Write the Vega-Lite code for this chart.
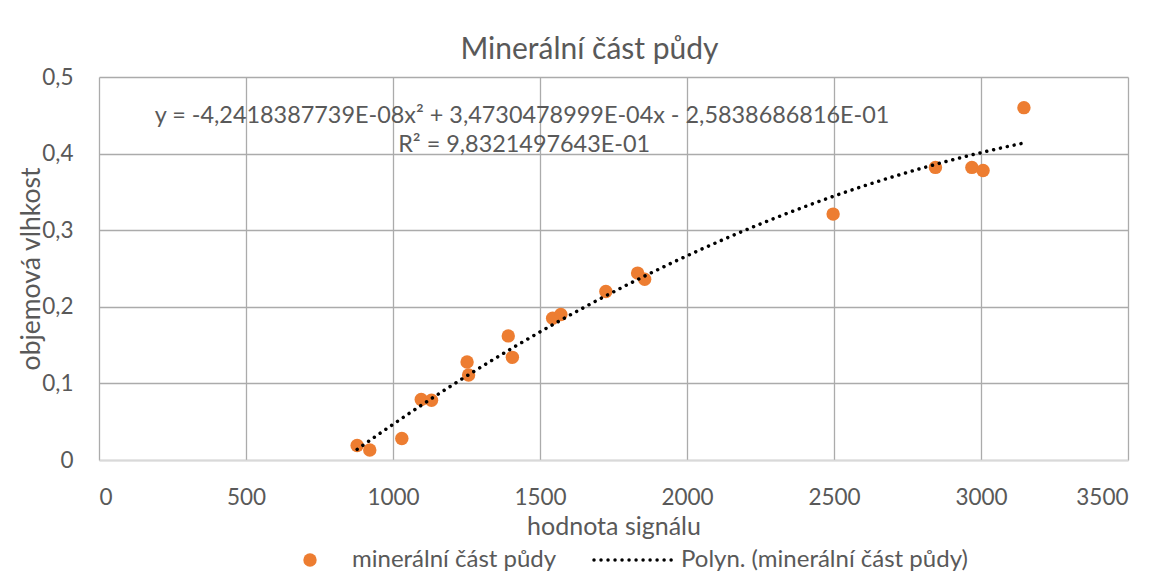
{
  "$schema": "https://vega.github.io/schema/vega-lite/v6.json",
  "width": 1029,
  "height": 383,
  "autosize": {"type": "none"},
  "padding": {"left": 99, "top": 77, "right": 43, "bottom": 119},
  "background": "white",
  "config": {
    "view": {"stroke": null},
    "font": "Lato",
    "axis": {"labelFont": "Lato", "titleFont": "Lato", "labelColor": "#595959", "titleColor": "#595959", "titleFontWeight": "normal", "labelFontSize": 22.5, "titleFontSize": 25, "gridColor": "#ababab", "gridWidth": 1.3, "ticks": false}
  },
  "title": {"text": "Minerální část půdy", "font": "Lato", "fontSize": 30, "fontWeight": "normal", "color": "#595959", "anchor": "middle", "frame": "group", "dx": -24, "offset": 1},
  "datasets": {
    "body": [
      {"signal": 878, "vlhkost": 0.019, "serie": "minerální část půdy"},
      {"signal": 921, "vlhkost": 0.013, "serie": "minerální část půdy"},
      {"signal": 1030, "vlhkost": 0.028, "serie": "minerální část půdy"},
      {"signal": 1096, "vlhkost": 0.079, "serie": "minerální část půdy"},
      {"signal": 1131, "vlhkost": 0.078, "serie": "minerální část půdy"},
      {"signal": 1252, "vlhkost": 0.128, "serie": "minerální část půdy"},
      {"signal": 1257, "vlhkost": 0.111, "serie": "minerální část půdy"},
      {"signal": 1392, "vlhkost": 0.162, "serie": "minerální část půdy"},
      {"signal": 1406, "vlhkost": 0.134, "serie": "minerální část půdy"},
      {"signal": 1543, "vlhkost": 0.185, "serie": "minerální část půdy"},
      {"signal": 1571, "vlhkost": 0.19, "serie": "minerální část půdy"},
      {"signal": 1724, "vlhkost": 0.22, "serie": "minerální část půdy"},
      {"signal": 1832, "vlhkost": 0.244, "serie": "minerální část půdy"},
      {"signal": 1856, "vlhkost": 0.236, "serie": "minerální část půdy"},
      {"signal": 2497, "vlhkost": 0.321, "serie": "minerální část půdy"},
      {"signal": 2845, "vlhkost": 0.382, "serie": "minerální část půdy"},
      {"signal": 2969, "vlhkost": 0.382, "serie": "minerální část půdy"},
      {"signal": 3007, "vlhkost": 0.378, "serie": "minerální část půdy"},
      {"signal": 3146, "vlhkost": 0.46, "serie": "minerální část půdy"}
    ],
    "rovnice": [
      {"signal": 1439, "vlhkost": 0.449, "text": "y = -4,2418387739E-08x² + 3,4730478999E-04x - 2,5838686816E-01"},
      {"signal": 1446, "vlhkost": 0.411, "text": "R² = 9,8321497643E-01"}
    ]
  },
  "encoding": {
    "x": {"field": "signal", "type": "quantitative", "scale": {"domain": [0, 3500], "nice": false},
      "axis": {"values": [0, 500, 1000, 1500, 2000, 2500, 3000, 3500], "format": "d", "title": "hodnota signálu", "labelPadding": 26, "titlePadding": 6, "domainColor": "#d9d9d9", "domainWidth": 1.5}},
    "y": {"field": "vlhkost", "type": "quantitative", "scale": {"domain": [0, 0.5], "nice": false},
      "axis": {"values": [0, 0.1, 0.2, 0.3, 0.4, 0.5], "labelExpr": "datum.value == 0 ? '0' : replace(format(datum.value, '.1f'), '.', ',')", "title": "objemová vlhkost", "titleFontSize": 26.5, "labelPadding": 26, "titlePadding": -4, "domain": false}}
  },
  "layer": [
    {
      "data": {"name": "body"},
      "mark": {"type": "point", "filled": true, "opacity": 1, "size": 180, "shape": "circle"},
      "encoding": {
        "color": {"field": "serie", "type": "nominal", "scale": {"range": ["#ED7D31"]},
          "legend": {"title": null, "orient": "none", "legendX": 199, "legendY": 471, "labelFont": "Lato", "labelFontSize": 24, "labelLimit": 0, "labelColor": "#595959", "labelOffset": 30, "symbolSize": 180}}
      }
    },
    {
      "data": {"name": "body"},
      "transform": [{"regression": "vlhkost", "on": "signal", "method": "poly", "order": 2, "groupby": ["serie"]}],
      "mark": {"type": "line", "color": "black", "strokeWidth": 3.5, "strokeCap": "round", "strokeDash": [0.01, 7]},
      "encoding": {
        "strokeDash": {"field": "serie", "type": "nominal", "scale": {"range": [[0.01, 7]]},
          "legend": {"title": null, "orient": "none", "legendX": 493, "legendY": 441, "labelFont": "Lato", "labelFontSize": 24, "labelLimit": 0, "labelColor": "#595959", "labelOffset": 5, "symbolSize": 6400, "symbolStrokeColor": "black", "symbolStrokeWidth": 3.5, "labelExpr": "'Polyn. (' + datum.label + ')'",
            "encode": {"symbols": {"update": {"strokeCap": {"value": "round"}}}}}
        }
      }
    },
    {
      "data": {"name": "rovnice"},
      "mark": {"type": "text", "font": "Lato", "fontSize": 23.4, "color": "#595959", "align": "center", "baseline": "middle"},
      "encoding": {"text": {"field": "text", "type": "nominal"}}
    }
  ]
}
